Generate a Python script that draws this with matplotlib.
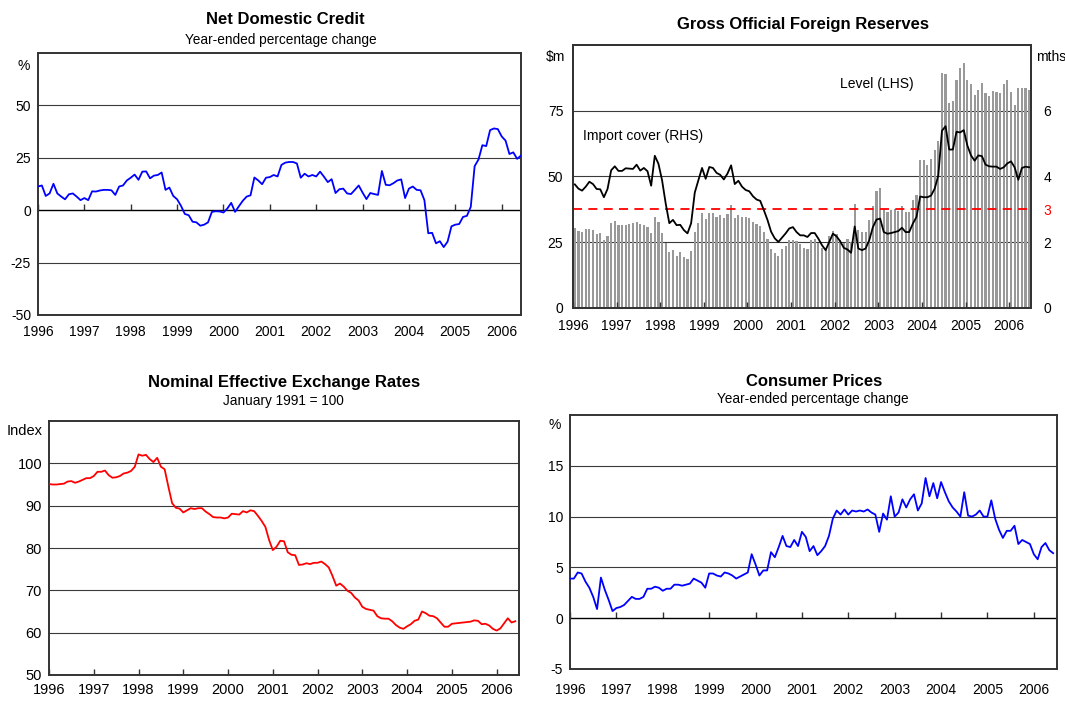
import matplotlib
matplotlib.use('Agg')
import matplotlib.pyplot as plt
import numpy as np

plt.rcParams['font.family'] = ['Liberation Sans', 'DejaVu Sans']
plt.rcParams['axes.unicode_minus'] = False

# ---------------- data (monthly, Jan 1996 - Jun 2006) ----------------
years = list(range(1996, 2007))
year_labels = [str(y) for y in years]

ndc = [11.3, 11.8, 6.8, 8, 12.6, 8, 6.5, 5.2, 7.6, 8, 6.5, 4.8, 5.8, 4.8, 9, 8.9, 9.4, 9.7, 9.7, 9.5,
       7.3, 11.3, 11.8, 14.2, 15.5, 17, 14.5, 18.4, 18.5, 15.2, 16.5, 16.8, 18, 9.7, 10.8, 6.8, 5.2, 2.1,
       -1.8, -2.4, -5.5, -5.8, -7.4, -6.9, -5.8, -0.8, -0.5, -0.6, -1.1, 0.8, 3.5, -0.8, 1.9, 4.5, 6.5,
       7.1, 15.6, 14.2, 12.4, 15.5, 15.8, 16.8, 16.1,
       21.6, 22.7, 23, 23, 22.3, 15.5, 17.4, 16.1, 16.8, 16.1, 18.4, 16, 13.4, 14.8, 8.2, 10, 10.3, 8,
       7.7, 9.7, 11.8, 8.4, 5.3, 8.2, 7.7, 7.3, 18.7, 12.1, 11.9, 12.9, 14.2, 14.7, 5.8, 10.3, 11.3, 9.7,
       9.5, 4.8, -11, -10.8, -15.8, -14.8, -17.6, -15, -7.7, -6.9, -6.6, -3.2, -2.7, 1.6, 21, 24.2, 31,
       30.6, 38.2, 39, 38.7, 35.2, 33.2, 26.8, 27.6, 24.5, 26.1]

reserves_level = [30.3, 29.4, 28.9, 30.0, 30.0, 29.7, 28.2, 28.5, 25.9, 27.4, 32.4, 33.1, 31.6, 31.6,
                  31.6, 31.9, 32.3, 32.7, 31.9, 31.6, 30.7, 28.5, 34.5, 32.8, 28.5, 24.9, 21.3, 22.1,
                  19.8, 21.3, 19.4, 18.7, 21.7, 28.9, 32.4, 36.1, 33.8, 36.1, 36.1, 34.6, 35.4, 34.2,
                  35.7, 39.1, 34.2, 35.4, 34.6, 34.6, 34.2, 32.7, 31.9, 31.2, 28.9, 26.3, 22.5, 21.0,
                  19.8, 22.5, 23.6, 25.9,
                  25.8, 25.4, 24.5,
                  23.0, 22.6, 25.8, 26.1, 24.7, 22.9, 22.5, 27.3, 29.3, 28.3, 25.8, 24.9, 26.1, 25.1,
                  39.4, 29.8, 28.9, 28.9, 33.6, 38.8, 44.3, 45.6, 37.8, 36.5, 37.1, 37.5, 36.9, 38.8,
                  36.5, 36.4, 41.2, 42.8,
                  56.4, 56.1, 54.2, 56.7, 60.1, 63.6,
                  89.3, 88.9, 77.9, 78.8, 86.8, 91.4, 93.2, 86.8, 85.3, 80.9, 83.0, 85.5, 81.7, 80.5,
                  82.6, 82.2, 81.8, 85.1, 86.8, 82.2, 77.0, 83.8, 83.6, 83.6, 83.0]

import_cover = [3.76, 3.63, 3.57, 3.69, 3.84, 3.77, 3.62, 3.61, 3.37, 3.62, 4.19, 4.31, 4.17, 4.17,
                4.25, 4.24, 4.23, 4.36, 4.18, 4.26, 4.16, 3.72, 4.63, 4.39, 3.89, 3.18, 2.58, 2.68,
                2.52, 2.53, 2.37, 2.27, 2.58, 3.51, 3.89, 4.26, 3.93, 4.29, 4.26, 4.11, 4.05, 3.91,
                4.09, 4.34, 3.77, 3.87, 3.69, 3.59, 3.55, 3.40, 3.30, 3.26, 2.98, 2.68, 2.32, 2.12,
                2.01, 2.14, 2.27, 2.42,
                2.46, 2.31, 2.21,
                2.21, 2.16, 2.28, 2.28, 2.11, 1.91, 1.76, 2.01, 2.26, 2.18, 2.03, 1.83, 1.78, 1.68,
                2.48, 1.81, 1.76, 1.81, 2.06, 2.46, 2.69, 2.72, 2.31, 2.26, 2.28, 2.31, 2.34, 2.44,
                2.31, 2.31, 2.57, 2.77,
                3.39, 3.37, 3.37, 3.42, 3.63, 4.03, 5.39, 5.53, 4.82, 4.82, 5.36, 5.34, 5.41, 4.94,
                4.64, 4.48, 4.64, 4.62, 4.36, 4.31, 4.30, 4.30, 4.23, 4.28, 4.40, 4.46, 4.28, 3.90,
                4.26, 4.30, 4.28]
benchmark_months = 3

neer = [95.1, 95.0, 95.0, 95.1, 95.2, 95.7, 95.8, 95.4, 95.7, 96.1, 96.5, 96.5, 97.0, 98.0, 98.0,
        98.3, 97.2, 96.6, 96.7, 97.0, 97.6, 97.8, 98.2, 99.2, 102.1, 101.8, 102.0, 101.0, 100.3,
        101.3, 99.2, 98.6, 94.5, 90.6, 89.5, 89.3, 88.4, 88.9, 89.4, 89.2, 89.4, 89.4, 88.6, 88.0,
        87.3, 87.2, 87.2, 87.0, 87.2, 88.1, 88.0, 87.9, 88.7, 88.4, 88.9, 88.7, 87.6, 86.4, 85.0, 81.9,
        79.5, 80.3, 81.7, 81.6, 79.0, 78.4, 78.3, 76.0, 76.1, 76.4, 76.2, 76.5, 76.5, 76.8, 76.2,
        75.4, 73.4, 71.1, 71.6, 70.9, 69.9, 69.4, 68.3, 67.6, 66.1, 65.6, 65.4, 65.2, 63.9, 63.4,
        63.3, 63.3, 62.7, 61.8, 61.2, 60.9, 61.5, 62.0, 62.8, 63.1, 65.0, 64.6, 64.0, 63.9, 63.4,
        62.4, 61.4, 61.4, 62.1, 62.2, 62.3, 62.4, 62.5, 62.6, 62.9, 62.8, 62.0, 62.1, 61.7, 60.9,
        60.5, 61.0, 62.2, 63.4, 62.4, 62.7]

cpi = [3.9, 3.9, 4.5, 4.4, 3.6, 3.0, 2.1, 0.9, 4.0, 2.8, 1.8, 0.7, 1.0, 1.1, 1.3, 1.7, 2.1, 1.9,
       1.9, 2.1, 2.9, 2.9, 3.1, 3.0, 2.7, 2.9, 2.9, 3.3, 3.3, 3.2, 3.3, 3.4, 3.9, 3.7, 3.5, 3.0, 4.4,
       4.4, 4.2, 4.1, 4.5, 4.4, 4.2, 3.9, 4.1, 4.3, 4.5, 6.3, 5.3, 4.2, 4.7, 4.7, 6.5, 6.0, 7.0, 8.1,
       7.1, 7.0, 7.7, 7.1, 8.5, 8.0,
       6.6, 7.1, 6.2, 6.6, 7.1, 8.1, 9.8, 10.6, 10.2, 10.7, 10.2, 10.6, 10.5, 10.6, 10.5, 10.7,
       10.4, 10.2, 8.5, 10.3, 9.7, 12.0, 10.0, 10.4, 11.7, 10.9, 11.7, 12.2, 10.6, 11.3, 13.8, 12.0,
       13.3, 11.8, 13.4, 12.4, 11.5, 10.9, 10.5, 10.0, 12.4, 10.1, 10.0, 10.2, 10.6, 10.0, 10.0,
       11.6, 9.8, 8.7, 7.9, 8.6, 8.6, 9.1, 7.3, 7.7, 7.5, 7.3, 6.3, 5.8, 7.0, 7.4, 6.7, 6.4]

n_months = len(ndc)
t = 1996 + np.arange(n_months) / 12.0          # start of month
t_mid = 1996 + (np.arange(n_months) + 0.5) / 12.0  # middle of month

# ---------------- figure ----------------
W, H = 1065, 701
fig = plt.figure(figsize=(W / 100, H / 100), dpi=100)


def px_axes(left, top, right, bottom):
    return fig.add_axes([left / W, 1 - bottom / H, (right - left) / W, (bottom - top) / H])


GRID = '#3a3a3a'
FRAME = '#333333'
TICK_FS = 10


def base_style(ax, ylim, yticks, xlim, grid_vals, xpad, fs=TICK_FS):
    ax.set_xlim(*xlim)
    ax.set_ylim(*ylim)
    ax.set_yticks(yticks)
    ax.set_xticks(years)
    ax.set_xticklabels(year_labels)
    ax.tick_params(axis='both', length=0, labelsize=fs, colors='black')
    ax.tick_params(axis='x', pad=xpad)
    ax.tick_params(axis='y', pad=5)
    for g in grid_vals:
        ax.axhline(g, color=GRID, lw=0.8, zorder=0.5)
    for s in ax.spines.values():
        s.set_color(FRAME)
        s.set_linewidth(1.4)


def corner_label(ax, text, dx, dy, side='left', fs=TICK_FS):
    xy = (0, 1) if side == 'left' else (1, 1)
    ax.annotate(text, xy=xy, xycoords='axes fraction', xytext=(dx, dy),
                textcoords='offset pixels', ha='center', va='center', fontsize=fs)


def zero_ticks(ax, frac):
    sec = ax.secondary_xaxis(frac)
    sec.set_xticks(years)
    sec.tick_params(direction='in', length=4, width=1, colors='#333333', labelbottom=False)
    sec.spines['bottom'].set_visible(False)


# ---- Net Domestic Credit ----
ax1 = px_axes(38, 53, 521, 315)
base_style(ax1, (-50, 75), [-50, -25, 0, 25, 50], (1996, t[-1]), [-25, 25, 50], 7)
ax1.axhline(0, color='black', lw=1.0, zorder=0.6)
ax1.plot(t, ndc, color='#0000ff', lw=1.3, zorder=3)
zero_ticks(ax1, 50 / 125)
corner_label(ax1, '%', -14, -13)
fig.text(285 / W, 1 - 20 / H, 'Net Domestic Credit', ha='center', va='center',
         fontsize=12, fontweight='bold')
fig.text(281 / W, 1 - 40 / H, 'Year-ended percentage change', ha='center', va='center',
         fontsize=9.8)

# ---- Gross Official Foreign Reserves ----
ax2 = px_axes(573, 45, 1031, 308)
base_style(ax2, (0, 100), [0, 25, 50, 75], (1996, 1996 + n_months / 12.0), [25, 50, 75], 8)
ax2.bar(t_mid, reserves_level, width=0.6 / 12, color='#999999', zorder=1)
ax2.tick_params(axis='x', direction='in', length=4, width=1, colors='#333333', labelcolor='black')
ax2.tick_params(axis='y', pad=7)
ax2r = ax2.twinx()
ax2r.set_ylim(0, 8)
ax2r.set_yticks([0, 2, 3, 4, 6])
ax2r.tick_params(axis='y', length=0, labelsize=TICK_FS, pad=9)
for lbl in ax2r.get_yticklabels():
    if lbl.get_text() == '3':
        lbl.set_color('red')
for s in ax2r.spines.values():
    s.set_color(FRAME)
    s.set_linewidth(1.4)
ax2r.axhline(benchmark_months, color='red', lw=1.3, ls=(0, (5, 3.5)), zorder=2)
ax2r.plot(t_mid, import_cover, color='black', lw=1.3, zorder=3)
corner_label(ax2, '$m', -18, -12)
corner_label(ax2, 'mths', 20, -12, side='right')
ax2.text(0.153, 0.654, 'Import cover (RHS)', transform=ax2.transAxes, ha='center',
         va='center', fontsize=TICK_FS)
ax2.text(0.664, 0.852, 'Level (LHS)', transform=ax2.transAxes, ha='center', va='center',
         fontsize=TICK_FS)
fig.text(803 / W, 1 - 25 / H, 'Gross Official Foreign Reserves', ha='center', va='center',
         fontsize=12, fontweight='bold')

# ---- Nominal Effective Exchange Rates ----
ax3 = px_axes(49, 421, 519, 675)
base_style(ax3, (50, 110), [50, 60, 70, 80, 90, 100], (1996, 2006.5), [60, 70, 80, 90, 100], 6,
           fs=10.5)
ax3.tick_params(axis='x', direction='in', length=4, width=1, colors='#333333', labelcolor='black')
ax3.plot(t, neer, color='#ff0000', lw=1.3, zorder=3)
corner_label(ax3, 'Index', -24, -10, fs=10.5)
fig.text(284 / W, 1 - 383 / H, 'Nominal Effective Exchange Rates', ha='center', va='center',
         fontsize=12, fontweight='bold')
fig.text(283 / W, 1 - 401 / H, 'January 1991 = 100', ha='center', va='center', fontsize=9.8)

# ---- Consumer Prices ----
ax4 = px_axes(570, 415, 1057, 669)
base_style(ax4, (-5, 20), [-5, 0, 5, 10, 15], (1996, 2006.5), [5, 10, 15], 10)
ax4.axhline(0, color='black', lw=1.0, zorder=0.6)
ax4.plot(t, cpi, color='#0000ff', lw=1.3, zorder=3)
zero_ticks(ax4, 5 / 25)
corner_label(ax4, '%', -15, -10)
fig.text(814 / W, 1 - 381 / H, 'Consumer Prices', ha='center', va='center',
         fontsize=12, fontweight='bold')
fig.text(813 / W, 1 - 399 / H, 'Year-ended percentage change', ha='center', va='center',
         fontsize=9.8)

fig.savefig('out.png', dpi=100)
